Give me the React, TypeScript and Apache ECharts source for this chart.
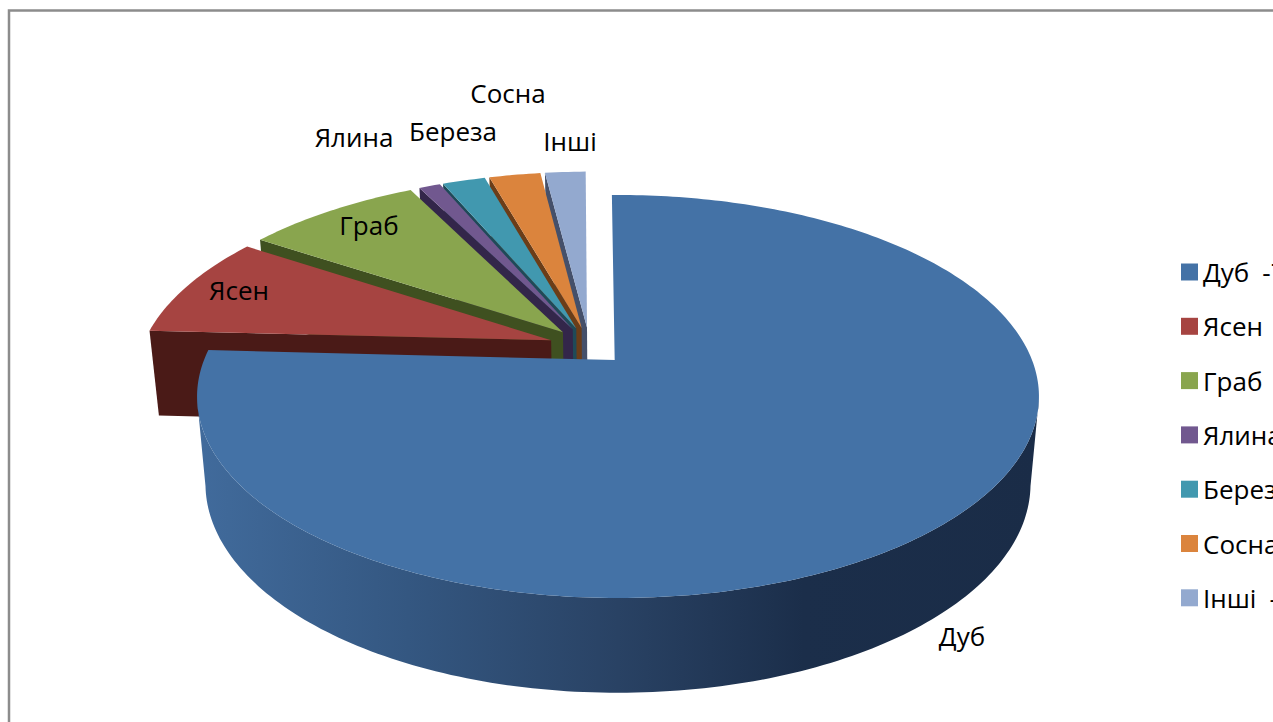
import React, { useEffect, useRef } from "react";
import * as echarts from "echarts";

const categories = ["Дуб", "Ясен", "Граб", "Ялина", "Береза", "Сосна", "Інші"];
const shares = [76.1, 8.4, 8.2, 1, 2, 2.4, 1.9];
const legendShares = ["76", "8,4", "8,2", "1", "2", "2,4", "2"];
const topColors = ["#4472a6", "#a64441", "#89a54e", "#71588f", "#4198af", "#db843d", "#93a9cf"];
const wallColors = ["#2c4a70", "#4a1a17", "#3f5020", "#33264a", "#1f4a58", "#6b3d18", "#45506a"];
const labelAnchors = [[962, 636], [239, 290], [369, 225], [354, 137], [453, 131], [508, 93], [570, 141]];
const FONT = '"Open Sans", "Noto Sans", sans-serif';
const FONT_SIZE = 26;

// perspective of the pie plane
const CX = 618, CY = 360, F = 414, G = 194.9, K = 0.181, EXPLODE = 0.1;
const ROTATION = -1, BLUE_APEX_NUDGE = -0.008;
// extrusion of the bottom plane
const SX = 0.98, AY = 1.037, BY = 86;

const rad = (d: number) => (d * Math.PI) / 180;
const startAngle = (i: number) => ROTATION + shares.slice(0, i).reduce((a, b) => a + b, 0) * 3.6;
const midAngle = (i: number) => startAngle(i) + shares[i] * 1.8;
const project = (x: number, z: number) => {
  const w = 1 + K * z;
  return [CX + (F * x) / w, CY - (G * z) / w];
};
const lower = (p: number[]) => [CX + SX * (p[0] - CX), CY + AY * (p[1] - CY) + BY];

function wedge(i: number) {
  const m0 = rad(midAngle(0));
  const m = rad(midAngle(i));
  const ax = -EXPLODE * Math.sin(m0) + EXPLODE * Math.sin(m);
  const az = -EXPLODE * Math.cos(m0) + EXPLODE * Math.cos(m);
  const apex = project(ax + (i === 0 ? BLUE_APEX_NUDGE : 0), az);
  const a0 = startAngle(i);
  const a1 = a0 + shares[i] * 3.6;
  const arc: number[][] = [];
  const frontArc: number[][] = [];
  const steps = Math.max(4, Math.ceil(a1 - a0));
  for (let s = 0; s <= steps; s++) {
    const t = rad(a0 + ((a1 - a0) * s) / steps);
    const p = project(ax + Math.sin(t), az + Math.cos(t));
    arc.push(p);
    // the part of the rim that faces the viewer, between the two widest points
    if (Math.cos(t) <= -K) frontArc.push(p);
  }
  return { apex, arc, frontArc };
}

function renderSlice(i: number) {
  return () => {
    const { apex, arc, frontArc } = wedge(i);
    const first = arc[0];
    const children: any[] = [];
    if (i === 0) {
      // outer wall
      children.push({
        type: "polygon",
        shape: { points: [...frontArc, ...frontArc.map(lower).reverse()] },
        style: {
          fill: new echarts.graphic.LinearGradient(0, 0, 1, 0, [
            { offset: 0, color: "#416b9c" },
            { offset: 0.25, color: "#345781" },
            { offset: 0.5, color: "#294264" },
            { offset: 0.72, color: "#1b2e4a" },
            { offset: 1, color: "#1a2c47" },
          ]),
        },
      });
    } else {
      // side cut along the edge that faces the viewer
      children.push({
        type: "polygon",
        shape: { points: [apex, first, lower(first), lower(apex)] },
        style: { fill: wallColors[i] },
      });
    }
    // top face
    children.push({
      type: "polygon",
      shape: { points: [apex, ...arc] },
      style: { fill: topColors[i] },
    });
    children.push({
      type: "text",
      style: {
        text: categories[i],
        x: labelAnchors[i][0],
        y: labelAnchors[i][1],
        fill: "#000",
        font: `${FONT_SIZE}px ${FONT}`,
        align: "center",
        verticalAlign: "middle",
      },
    });
    return { type: "group", children };
  };
}

export default function App() {
  const ref = useRef<HTMLDivElement>(null);
  useEffect(() => {
    document.body.style.margin = "0";
    document.body.style.overflow = "hidden";
    const chart = echarts.init(ref.current!, null, { renderer: "svg" });
    const order = categories.map((_, i) => categories.length - 1 - i);
    chart.setOption({
      animation: false,
      backgroundColor: "#fff",
      legend: {
        orient: "vertical",
        left: 1181,
        top: 259,
        data: categories,
        icon: "rect",
        itemWidth: 17,
        itemHeight: 17,
        itemGap: 28.3,
        padding: 0,
        selectedMode: false,
        formatter: (n: string) => `${n}\u2002-${legendShares[categories.indexOf(n)]}%`,
        textStyle: { fontFamily: FONT, fontSize: FONT_SIZE, color: "#000" },
      },
      graphic: [
        {
          type: "polyline",
          shape: { points: [[9, 730], [9, 10.5], [1280, 10.5]] },
          style: { stroke: "#8c8c8c", lineWidth: 2.5, fill: "none" },
          silent: true,
        },
      ],
      series: order.map((i) => ({
        type: "custom",
        name: categories[i],
        coordinateSystem: "none",
        silent: true,
        itemStyle: { color: topColors[i] },
        data: [shares[i]],
        renderItem: renderSlice(i),
      })),
    });
    return () => chart.dispose();
  }, []);
  return <div ref={ref} style={{ width: 1273, height: 722 }} />;
}
